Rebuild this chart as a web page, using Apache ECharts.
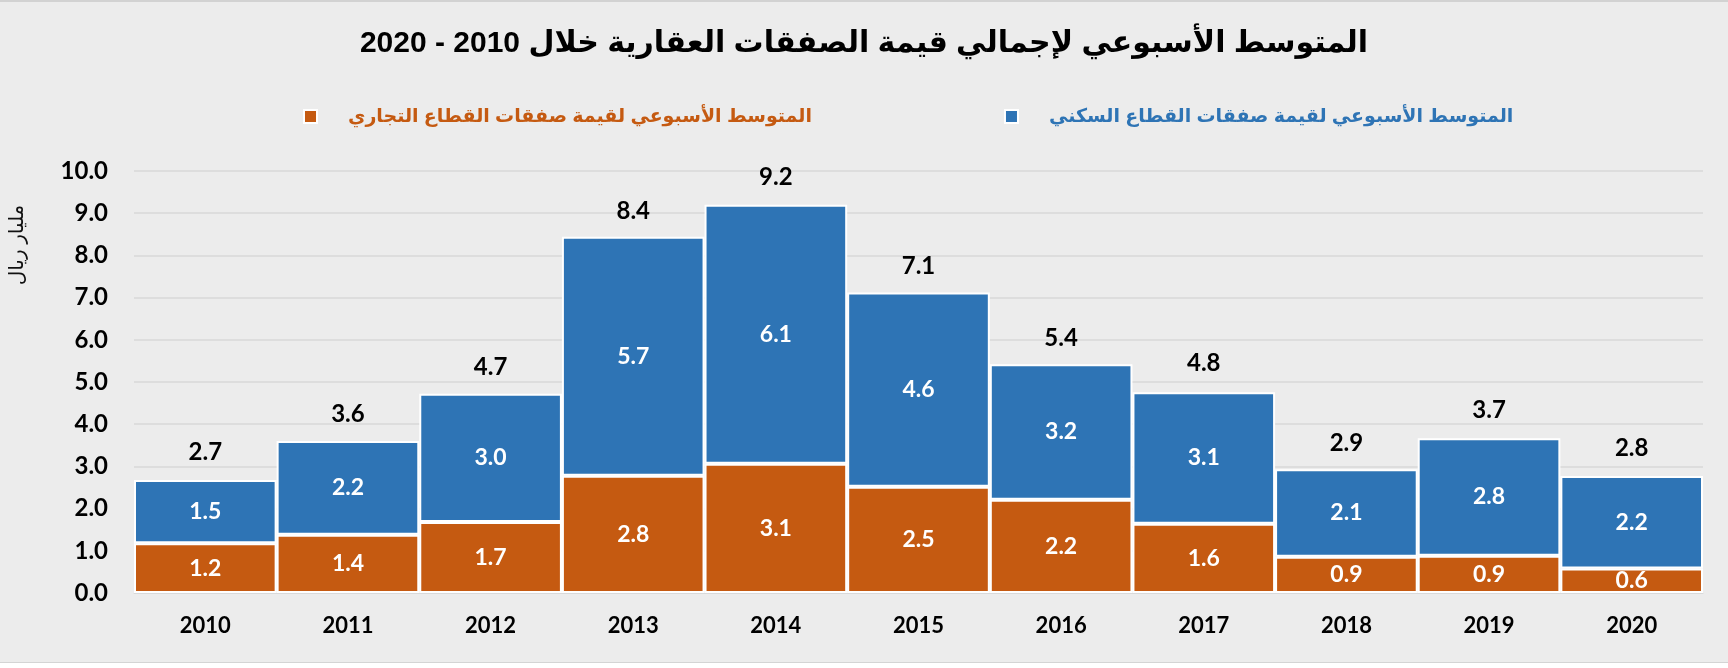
<!DOCTYPE html>
<html>
<head>
<meta charset="utf-8">
<script src="https://cdn.jsdelivr.net/npm/echarts@6/dist/echarts.min.js"></script>
<style>
html,body{margin:0;padding:0;background:#ffffff;}
#chart{width:1728px;height:668px;}
</style>
</head>
<body>
<div id="chart"></div>
<script>
const categories = ['2010','2011','2012','2013','2014','2015','2016','2017','2018','2019','2020'];
const commercial = [1.18, 1.38, 1.68, 2.78, 3.06, 2.52, 2.21, 1.64, 0.86, 0.88, 0.58];
const residential = [1.50, 2.22, 3.04, 5.66, 6.14, 4.60, 3.21, 3.12, 2.07, 2.79, 2.19];
const totals = [2.7, 3.6, 4.7, 8.4, 9.2, 7.1, 5.4, 4.8, 2.9, 3.7, 2.8];
const yTicks = [0,1,2,3,4,5,6,7,8,9,10];

const titleText = 'المتوسط الأسبوعي لإجمالي قيمة الصفقات العقارية خلال 2010 - 2020';
const nameCommercial = 'المتوسط الأسبوعي لقيمة صفقات القطاع التجاري';
const nameResidential = 'المتوسط الأسبوعي لقيمة صفقات القطاع السكني';
const yName = 'مليار ريال';

const BLUE = '#2e74b5';
const ORANGE = '#c55a11';
const numFont = 'Lato, "Open Sans", sans-serif';
const arFont = '"Liberation Sans", "DejaVu Sans", sans-serif';

const chart = echarts.init(document.getElementById('chart'));
chart.setOption({
  backgroundColor: '#ececec',
  animation: false,
  title: {
    text: titleText,
    left: 'center',
    top: 24,
    textStyle: { fontFamily: arFont, fontWeight: 'bold', fontSize: 30, color: '#000' }
  },
  legend: {
    data: [
      { name: nameCommercial, textStyle: { color: ORANGE } },
      { name: nameResidential, textStyle: { color: BLUE } }
    ],
    left: 298,
    top: 102,
    icon: 'rect',
    itemWidth: 13,
    itemHeight: 13,
    itemGap: 192,
    textStyle: { fontFamily: arFont, fontWeight: 'bold', fontSize: 19, padding: [0, 0, 0, 26] }
  },
  grid: { left: 134, right: 25, top: 171, bottom: 75 },
  graphic: [
    { type: 'rect', shape: { x: 0, y: 0, width: 1728, height: 2 }, style: { fill: '#d2d2d2' }, silent: true },
    { type: 'rect', shape: { x: 0, y: 662, width: 1728, height: 1 }, style: { fill: '#d4d4d4' }, silent: true },
    { type: 'rect', shape: { x: 0, y: 663, width: 1728, height: 5 }, style: { fill: '#ffffff' }, silent: true },
    { type: 'text', x: 17, y: 245, rotation: Math.PI / 2,
      style: { text: yName, fontFamily: arFont, fontSize: 20, fill: '#111', align: 'center', verticalAlign: 'middle' } }
  ],
  xAxis: {
    type: 'category',
    data: categories,
    axisTick: { show: false },
    axisLine: { show: true, lineStyle: { color: '#d9d9d9', width: 1 } },
    axisLabel: { margin: 22, fontFamily: numFont, fontWeight: 'bold', fontSize: 22, color: '#000' }
  },
  yAxis: {
    type: 'value',
    min: 0,
    max: 10,
    interval: 1,
    axisLine: { show: false },
    axisTick: { show: false },
    splitLine: { lineStyle: { color: '#d9d9d9', width: 1.5 } },
    axisLabel: { margin: 26, fontFamily: numFont, fontWeight: 'bold', fontSize: 24, color: '#000',
      formatter: v => yTicks.includes(v) ? v.toFixed(1) : '' }
  },
  series: [
    {
      name: nameCommercial, type: 'bar', stack: 'total', data: commercial,
      barCategoryGap: '0%',
      itemStyle: { color: ORANGE, borderColor: '#ffffff', borderWidth: 2 },
      label: { show: true, position: 'inside', color: '#fff', fontFamily: numFont, fontWeight: 'bold', fontSize: 23,
        formatter: p => p.value.toFixed(1) }
    },
    {
      name: nameResidential, type: 'bar', stack: 'total', data: residential,
      barCategoryGap: '0%',
      itemStyle: { color: BLUE, borderColor: '#ffffff', borderWidth: 2 },
      label: { show: true, position: 'inside', color: '#fff', fontFamily: numFont, fontWeight: 'bold', fontSize: 23,
        formatter: p => p.value.toFixed(1) }
    },
    {
      name: 'total', type: 'bar', data: totals, barGap: '-100%', barCategoryGap: '0%', silent: true,
      itemStyle: { color: 'rgba(0,0,0,0)', borderWidth: 0 },
      label: { show: true, position: 'top', distance: 15, color: '#000', fontFamily: numFont, fontWeight: 'bold', fontSize: 24,
        formatter: p => p.value.toFixed(1) }
    }
  ]
});
</script>
</body>
</html>
